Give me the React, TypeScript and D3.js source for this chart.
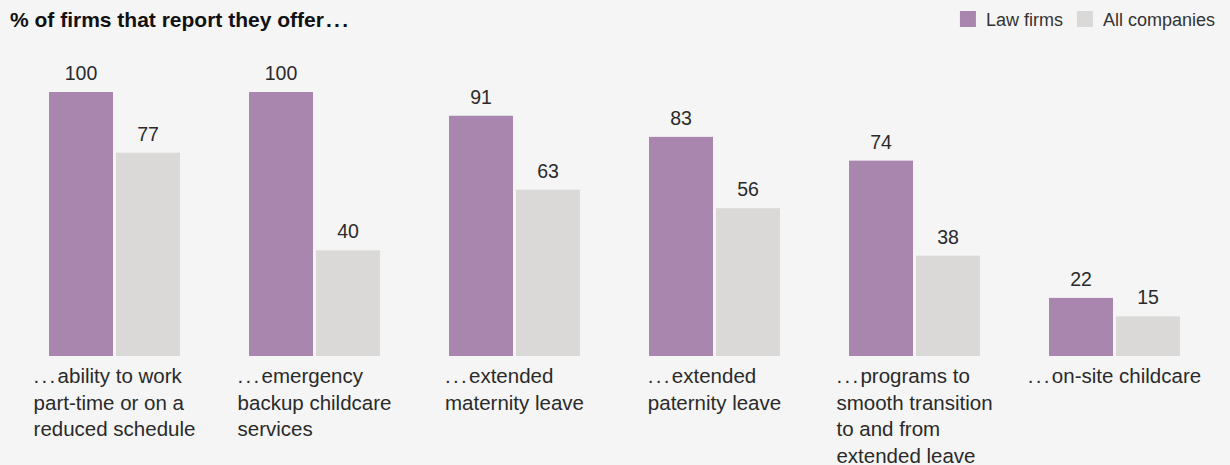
import React from "react";
import * as d3 from "d3";

const categories = [
  ["...ability to work", "part-time or on a", "reduced schedule"],
  ["...emergency", "backup childcare", "services"],
  ["...extended", "maternity leave"],
  ["...extended", "paternity leave"],
  ["...programs to", "smooth transition", "to and from", "extended leave"],
  ["...on-site childcare"],
];
const lawFirms = [100, 100, 91, 83, 74, 22];
const allCompanies = [77, 40, 63, 56, 38, 15];
const seriesNames = ["Law firms", "All companies"];
const seriesColors = ["#a886ae", "#dad9d7"];
const title = "% of firms that report they offer...";

const W = 1230;
const H = 465;
const FONT = "'Liberation Sans', Arial, Helvetica, sans-serif";
const DOT_SP = 2.3;

let ctx: CanvasRenderingContext2D | null = null;
function measure(text: string, font: string) {
  if (!ctx) ctx = document.createElement("canvas").getContext("2d");
  if (!ctx) return text.length * 9;
  ctx.font = font;
  return ctx.measureText(text).width;
}

function lineWidth(t: string, font: string) {
  return measure(t, font) + (t.startsWith("...") ? 3 * DOT_SP : 0);
}

function Line({ t }: { t: string }) {
  if (t.startsWith("...")) {
    return (
      <>
        <tspan style={{ letterSpacing: `${DOT_SP}px` }}>...</tspan>
        <tspan>{t.slice(3)}</tspan>
      </>
    );
  }
  return <>{t}</>;
}

export default function App() {
  const idx = categories.map((_, i) => String(i));
  const x = d3.scaleBand<string>().domain(idx).range([14.5, 1214.5]).paddingInner(0.345).paddingOuter(0.1725);
  const xs = d3.scaleBand<string>().domain(seriesNames).range([0, x.bandwidth()]).paddingInner(0.0448);
  const y = d3.scaleLinear().domain([0, 100]).range([356, 92]);

  const labelSize = 20.5;
  const labelFont = `${labelSize}px ${FONT}`;
  const legendSize = 18;
  const legendFont = `${legendSize}px ${FONT}`;
  const values = [lawFirms, allCompanies];

  const legendRight = 1215;
  const sq = 16;
  const gapText = 10;
  const gapItem = 14;
  const legendItems: { name: string; color: string; sx: number; tx: number }[] = [];
  let cursor = legendRight;
  for (let i = seriesNames.length - 1; i >= 0; i--) {
    const w = measure(seriesNames[i], legendFont);
    const tx = cursor - w;
    const sx = tx - gapText - sq;
    legendItems.unshift({ name: seriesNames[i], color: seriesColors[i], sx, tx });
    cursor = sx - gapItem;
  }

  const titleMain = title.replace(/\.\.\.$/, "");
  const titleDots = title.endsWith("...") ? "..." : "";

  return (
    <div style={{ position: "absolute", left: 0, top: 0 }}>
      <svg width={W} height={H} style={{ display: "block", background: "#f5f5f5" }} fontFamily={FONT}>
        <rect x={0} y={0} width={W} height={H} fill="#f5f5f5" />
        <text x={10} y={27} fontSize={21} fontWeight="bold" fill="#111">
          <tspan>{titleMain}</tspan>
          <tspan dx={2} style={{ letterSpacing: "2.4px" }}>{titleDots}</tspan>
        </text>
        {legendItems.map((it) => (
          <g key={it.name}>
            <rect x={it.sx} y={11} width={sq} height={sq} fill={it.color} />
            <text x={it.tx} y={26} fontSize={legendSize} fill="#333">
              {it.name}
            </text>
          </g>
        ))}
        {categories.map((lines, i) => {
          const gx = x(String(i))!;
          const center = gx + x.bandwidth() / 2;
          const maxW = d3.max(lines, (t) => lineWidth(t, labelFont)) || 0;
          const lx = center - maxW / 2;
          return (
            <g key={i}>
              {seriesNames.map((s, j) => {
                const v = values[j][i];
                const bx = gx + xs(s)!;
                return (
                  <g key={s}>
                    <rect x={bx} y={y(v)} width={xs.bandwidth()} height={y(0) - y(v)} fill={seriesColors[j]} />
                    <text x={bx + xs.bandwidth() / 2} y={y(v) - 12} textAnchor="middle" fontSize={19.5} fill="#2a2a2a">
                      {v}
                    </text>
                  </g>
                );
              })}
              {lines.map((t, k) => (
                <text key={k} x={lx} y={y(0) + 27 + k * 26.7} fontSize={labelSize} fill="#2a2a2a">
                  <Line t={t} />
                </text>
              ))}
            </g>
          );
        })}
      </svg>
    </div>
  );
}
